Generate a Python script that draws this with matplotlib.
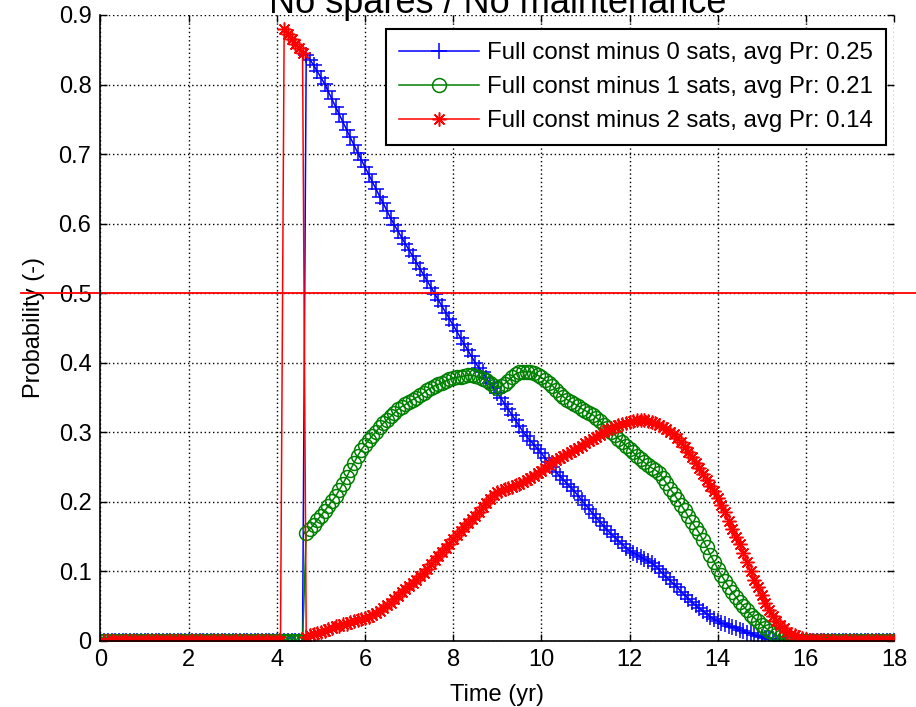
import numpy as np
import matplotlib
matplotlib.use('Agg')
import matplotlib.pyplot as plt

# monthly samples, 0..18 years
months = np.arange(0, 217)
time_yr = months / 12.0

# one row per year (12 monthly values)
pr_minus0 = [
    0, 0, 0, 0, 0, 0, 0, 0, 0, 0, 0, 0,
    0, 0, 0, 0, 0, 0, 0, 0, 0, 0, 0, 0,
    0, 0, 0, 0, 0, 0, 0, 0, 0, 0, 0, 0,
    0, 0, 0, 0, 0, 0, 0, 0, 0, 0, 0, 0,
    0, 0, 0, 0, 0, 0, 0, 0, 0.843, 0.836, 0.828, 0.819,
    0.810, 0.801, 0.790, 0.779, 0.768, 0.757, 0.746, 0.735, 0.724, 0.713, 0.702, 0.692,
    0.681, 0.671, 0.660, 0.650, 0.639, 0.629, 0.618, 0.608, 0.598, 0.589, 0.580, 0.571,
    0.562, 0.553, 0.544, 0.535, 0.526, 0.517, 0.508, 0.499, 0.490, 0.481, 0.472, 0.463,
    0.454, 0.445, 0.436, 0.427, 0.418, 0.409, 0.400, 0.393, 0.386, 0.378, 0.371, 0.364,
    0.356, 0.349, 0.341, 0.333, 0.325, 0.317, 0.309, 0.301, 0.294, 0.288, 0.282, 0.276,
    0.270, 0.263, 0.257, 0.250, 0.243, 0.237, 0.232, 0.226, 0.221, 0.215, 0.209, 0.202,
    0.196, 0.190, 0.183, 0.177, 0.171, 0.165, 0.159, 0.154, 0.149, 0.144, 0.139, 0.134,
    0.130, 0.127, 0.124, 0.121, 0.118, 0.115, 0.112, 0.108, 0.103, 0.097, 0.092, 0.087,
    0.082, 0.077, 0.071, 0.066, 0.061, 0.056, 0.051, 0.047, 0.043, 0.039, 0.035, 0.031,
    0.029, 0.026, 0.024, 0.022, 0.020, 0.018, 0.016, 0.014, 0.012, 0.011, 0.009, 0.007,
    0.006, 0.004, 0.003, 0.003, 0.002, 0.002, 0.001, 0.001, 0, 0, 0, 0,
    0, 0, 0, 0, 0, 0, 0, 0, 0, 0, 0, 0,
    0, 0, 0, 0, 0, 0, 0, 0, 0, 0, 0, 0,
    0,
]

pr_minus1 = [
    0, 0, 0, 0, 0, 0, 0, 0, 0, 0, 0, 0,
    0, 0, 0, 0, 0, 0, 0, 0, 0, 0, 0, 0,
    0, 0, 0, 0, 0, 0, 0, 0, 0, 0, 0, 0,
    0, 0, 0, 0, 0, 0, 0, 0, 0, 0, 0, 0,
    0, 0, 0, 0, 0, 0, 0, 0, 0.155, 0.161, 0.167, 0.174,
    0.180, 0.187, 0.194, 0.201, 0.208, 0.217, 0.226, 0.236, 0.246, 0.256, 0.266, 0.275,
    0.282, 0.289, 0.295, 0.301, 0.307, 0.313, 0.318, 0.323, 0.328, 0.333, 0.337, 0.340,
    0.344, 0.347, 0.350, 0.353, 0.357, 0.361, 0.364, 0.367, 0.369, 0.371, 0.374, 0.376,
    0.378, 0.379, 0.380, 0.381, 0.382, 0.382, 0.381, 0.379, 0.377, 0.375, 0.371, 0.367,
    0.364, 0.366, 0.370, 0.374, 0.379, 0.384, 0.386, 0.387, 0.387, 0.387, 0.385, 0.382,
    0.379, 0.375, 0.371, 0.367, 0.361, 0.355, 0.351, 0.347, 0.344, 0.341, 0.338, 0.334,
    0.331, 0.328, 0.325, 0.321, 0.316, 0.311, 0.306, 0.301, 0.296, 0.291, 0.286, 0.281,
    0.276, 0.271, 0.266, 0.261, 0.257, 0.253, 0.249, 0.246, 0.242, 0.235, 0.227, 0.219,
    0.212, 0.204, 0.196, 0.188, 0.179, 0.171, 0.163, 0.155, 0.145, 0.135, 0.124, 0.114,
    0.104, 0.095, 0.086, 0.078, 0.070, 0.063, 0.056, 0.050, 0.044, 0.038, 0.033, 0.028,
    0.023, 0.019, 0.015, 0.011, 0.008, 0.006, 0.004, 0.002, 0.001, 0.001, 0, 0,
    0, 0, 0, 0, 0, 0, 0, 0, 0, 0, 0, 0,
    0, 0, 0, 0, 0, 0, 0, 0, 0, 0, 0, 0,
    0,
]

pr_minus2 = [
    0, 0, 0, 0, 0, 0, 0, 0, 0, 0, 0, 0,
    0, 0, 0, 0, 0, 0, 0, 0, 0, 0, 0, 0,
    0, 0, 0, 0, 0, 0, 0, 0, 0, 0, 0, 0,
    0, 0, 0, 0, 0, 0, 0, 0, 0, 0, 0, 0,
    0, 0, 0.880, 0.873, 0.866, 0.859, 0.852, 0.845, 0.006, 0.008, 0.010, 0.011,
    0.013, 0.015, 0.017, 0.019, 0.021, 0.022, 0.024, 0.025, 0.027, 0.028, 0.030, 0.031,
    0.033, 0.035, 0.037, 0.040, 0.043, 0.047, 0.051, 0.055, 0.060, 0.065, 0.070, 0.074,
    0.079, 0.083, 0.088, 0.093, 0.098, 0.104, 0.110, 0.116, 0.122, 0.128, 0.134, 0.140,
    0.146, 0.152, 0.158, 0.164, 0.170, 0.175, 0.180, 0.186, 0.192, 0.198, 0.204, 0.210,
    0.214, 0.216, 0.218, 0.220, 0.222, 0.224, 0.226, 0.228, 0.231, 0.234, 0.237, 0.241,
    0.245, 0.249, 0.253, 0.257, 0.260, 0.263, 0.266, 0.269, 0.272, 0.275, 0.278, 0.281,
    0.284, 0.287, 0.290, 0.293, 0.296, 0.300, 0.303, 0.306, 0.308, 0.310, 0.312, 0.314,
    0.315, 0.316, 0.317, 0.317, 0.317, 0.316, 0.315, 0.313, 0.311, 0.308, 0.305, 0.301,
    0.297, 0.292, 0.286, 0.279, 0.272, 0.264, 0.256, 0.248, 0.240, 0.232, 0.223, 0.215,
    0.206, 0.196, 0.185, 0.173, 0.161, 0.150, 0.139, 0.127, 0.114, 0.100, 0.088, 0.077,
    0.066, 0.055, 0.045, 0.036, 0.029, 0.023, 0.018, 0.013, 0.010, 0.008, 0.006, 0.004,
    0.003, 0.002, 0.002, 0.001, 0.001, 0, 0, 0, 0, 0, 0, 0,
    0, 0, 0, 0, 0, 0, 0, 0, 0, 0, 0, 0,
    0,
]

labels = [
    'Full const minus 0 sats, avg Pr: 0.25',
    'Full const minus 1 sats, avg Pr: 0.21',
    'Full const minus 2 sats, avg Pr: 0.14',
]
threshold = 0.5
x_ticks = [0, 2, 4, 6, 8, 10, 12, 14, 16, 18]
y_ticks = [0, 0.1, 0.2, 0.3, 0.4, 0.5, 0.6, 0.7, 0.8, 0.9]

plt.rcParams['font.family'] = ['Liberation Sans', 'DejaVu Sans']

fig = plt.figure(figsize=(9.16, 7.07), dpi=100)
ax = fig.add_axes([0.1097, 0.0934, 0.8663, 0.8854])

# matlab-like asterisk: + and x on top of each other
asterisk = (8, 2, 0)

ax.plot(time_yr, pr_minus0, color='#0000ff', marker='+', markersize=11,
        markeredgewidth=1.1, linewidth=1.1, label=labels[0])
ax.plot(time_yr, pr_minus1, color='#008000', marker='o', markersize=10,
        markerfacecolor='none', markeredgewidth=1.1, linewidth=1.1, label=labels[1])
ax.plot(time_yr, pr_minus2, color='#ff0000', marker=asterisk, markersize=10,
        markeredgewidth=1.1, linewidth=1.1, label=labels[2])
ax.axhline(threshold, xmin=-0.1, xmax=1.03, color='#ff0000', linewidth=1.3,
           clip_on=False)

ax.set_xlim(0, 18)
ax.set_ylim(0, 0.9)
ax.set_xticks(x_ticks)
ax.set_yticks(y_ticks)
ax.set_xticklabels([str(t) for t in x_ticks])
ax.set_yticklabels(['0'] + [f'{t:.1f}' for t in y_ticks[1:]])
ax.tick_params(direction='in', length=5, width=1, labelsize=17,
               top=True, right=True)
ax.tick_params(axis='x', pad=6)
ax.tick_params(axis='y', pad=6.5)
ax.grid(True, color='black', linestyle=(0, (1, 2)), linewidth=1)
for side in ['top', 'right']:
    ax.spines[side].set_visible(False)
for side in ['left', 'bottom']:
    ax.spines[side].set_linewidth(1.2)

ax.set_title('No spares / No maintenance', fontsize=26, pad=1.5)
ax.set_xlabel('Time (yr)', fontsize=17, labelpad=9)
ax.set_ylabel('Probability (-)', fontsize=17, labelpad=10)

leg = ax.legend(loc='upper right', bbox_to_anchor=(0.99, 0.978),
                borderaxespad=0, fontsize=17.3, fancybox=False,
                edgecolor='black', framealpha=1, handlelength=3.3,
                handletextpad=0.35, labelspacing=0.5, borderpad=0.55)
leg.get_frame().set_linewidth(1.5)

fig.savefig('out.png', dpi=100)
